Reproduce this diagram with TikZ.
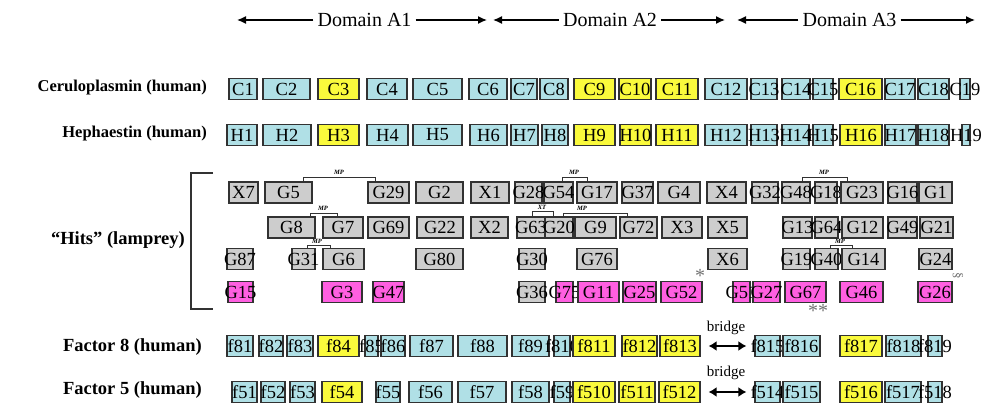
\documentclass[tikz,border=0pt]{standalone}
\usepackage{fontspec}
\setmainfont{Liberation Serif}
\usetikzlibrary{arrows.meta}

\definecolor{segblue}{RGB}{176,224,230}
\definecolor{segyellow}{RGB}{250,250,60}
\definecolor{seggray}{RGB}{205,205,205}
\definecolor{segpink}{RGB}{255,95,225}
\definecolor{segline}{RGB}{50,50,50}

\tikzset{
  seg/.style={draw=segline, line width=1.2pt, inner xsep=-12pt, inner ysep=0pt,
    minimum height=21pt, font=\fontsize{18.5}{18.5}\selectfont},
  bl/.style={seg, fill=segblue},
  yl/.style={seg, fill=segyellow},
  gr/.style={seg, fill=seggray},
  pk/.style={seg, fill=segpink},
  rowlabel/.style={anchor=east, inner sep=0pt, font=\fontsize{16.5}{18}\selectfont\bfseries},
  bigrowlabel/.style={rowlabel, font=\fontsize{18.5}{20}\selectfont\bfseries},
  domlabel/.style={inner sep=4pt, font=\fontsize{20}{20}\selectfont},
  domarrow/.style={line width=1.4pt, -{Latex[length=9pt,width=8pt]}},
  bridgearrow/.style={line width=2.4pt, {Latex[length=8pt,width=10pt]}-{Latex[length=8pt,width=10pt]},
    shorten <=8pt, shorten >=8pt},
  linklabel/.style={inner sep=0pt, font=\fontsize{6.5}{6.5}\selectfont\itshape\bfseries},
  linkline/.style={line width=0.8pt, draw=segline},
  starmark/.style={inner sep=0pt, font=\fontsize{20}{20}\selectfont, text=black!55}
}

\begin{document}
\begin{tikzpicture}[x=1pt,y=-1pt]
  \useasboundingbox (0,0) rectangle (985,406);

  % domains
  \node[domlabel] (A1) at (364.5,20) {Domain A1};
  \node[domlabel] (A2) at (610,20) {Domain A2};
  \node[domlabel] (A3) at (849.5,20) {Domain A3};
  \coordinate (A1l) at (237,20);
  \coordinate (A1r) at (487,20);
  \coordinate (A2l) at (493,20);
  \coordinate (A2r) at (725,20);
  \coordinate (A3l) at (737,20);
  \coordinate (A3r) at (975,20);
  \draw[domarrow] (A1) -- (A1l);
  \draw[domarrow] (A1) -- (A1r);
  \draw[domarrow] (A2) -- (A2l);
  \draw[domarrow] (A2) -- (A2r);
  \draw[domarrow] (A3) -- (A3l);
  \draw[domarrow] (A3) -- (A3r);

  % row labels
  \node[rowlabel] (cerulo) at (207,88) {Ceruloplasmin (human)};
  \node[rowlabel] (heph) at (207,134) {Hephaestin (human)};
  \node[bigrowlabel] (hits) at (185,240) {“Hits” (lamprey)};
  \node[bigrowlabel] (fviii) at (202,347) {Factor 8 (human)};
  \node[bigrowlabel] (fv) at (202,390) {Factor 5 (human)};
  \draw[line width=1.1pt, draw=segline] (213,173) -- (191,173) -- (191,309) -- (213,309);

  % Ceruloplasmin
  \node[bl, minimum width=28] (C1) at (243,89) {C1};
  \node[bl, minimum width=47] (C2) at (286.5,89) {C2};
  \node[yl, minimum width=41] (C3) at (338.5,89) {C3};
  \node[bl, minimum width=40] (C4) at (387,89) {C4};
  \node[bl, minimum width=49] (C5) at (437.5,89) {C5};
  \node[bl, minimum width=38] (C6) at (488,89) {C6};
  \node[bl, minimum width=26] (C7) at (524,89) {C7};
  \node[bl, minimum width=28] (C8) at (554,89) {C8};
  \node[yl, minimum width=41] (C9) at (594.5,89) {C9};
  \node[yl, minimum width=32] (C10) at (635,89) {C10};
  \node[yl, minimum width=42] (C11) at (677,89) {C11};
  \node[bl, minimum width=42] (C12) at (726,89) {C12};
  \node[bl, minimum width=26] (C13) at (764,89) {C13};
  \node[bl, minimum width=28] (C14) at (796,89) {C14};
  \node[bl, minimum width=20] (C15) at (823,89) {C15};
  \node[yl, minimum width=43] (C16) at (860.5,89) {C16};
  \node[bl, minimum width=30] (C17) at (900,89) {C17};
  \node[bl, minimum width=31] (C18) at (933.5,89) {C18};
  \node[bl, minimum width=10] (C19) at (965,89) {C19};

  % Hephaestin
  \node[bl, minimum width=30] (H1) at (242,135) {H1};
  \node[bl, minimum width=48] (H2) at (287,135) {H2};
  \node[yl, minimum width=41] (H3) at (338.5,135) {H3};
  \node[bl, minimum width=41] (H4) at (387.5,135) {H4};
  \node[bl, minimum width=49] (H5) at (437.5,135) {H5};
  \node[bl, minimum width=37] (H6) at (488.5,135) {H6};
  \node[bl, minimum width=27] (H7) at (524.5,135) {H7};
  \node[bl, minimum width=26] (H8) at (555,135) {H8};
  \node[yl, minimum width=41] (H9) at (594.5,135) {H9};
  \node[yl, minimum width=31] (H10) at (635.5,135) {H10};
  \node[yl, minimum width=42] (H11) at (677,135) {H11};
  \node[bl, minimum width=42] (H12) at (726,135) {H12};
  \node[bl, minimum width=26] (H13) at (764,135) {H13};
  \node[bl, minimum width=27] (H14) at (795.5,135) {H14};
  \node[bl, minimum width=20] (H15) at (823,135) {H15};
  \node[yl, minimum width=42] (H16) at (861,135) {H16};
  \node[bl, minimum width=31] (H17) at (900.5,135) {H17};
  \node[bl, minimum width=31] (H18) at (933.5,135) {H18};
  \node[bl, minimum width=8] (H19) at (966,135) {H19};

  % Hits, first row
  \node[gr, minimum width=29] (X7) at (243.5,192.5) {X7};
  \node[gr, minimum width=47] (G5) at (288.5,192.5) {G5};
  \node[gr, minimum width=41] (G29) at (388.5,192.5) {G29};
  \node[gr, minimum width=47] (G2) at (439.5,192.5) {G2};
  \node[gr, minimum width=38] (X1) at (490,192.5) {X1};
  \node[gr, minimum width=27] (G28) at (528.5,192.5) {G28};
  \node[gr, minimum width=29] (G54) at (558.5,192.5) {G54};
  \node[gr, minimum width=40] (G17) at (597,192.5) {G17};
  \node[gr, minimum width=31] (G37) at (637.5,192.5) {G37};
  \node[gr, minimum width=42] (G4) at (679,192.5) {G4};
  \node[gr, minimum width=39] (X4) at (726.5,192.5) {X4};
  \node[gr, minimum width=26] (G32) at (765,192.5) {G32};
  \node[gr, minimum width=28] (G48) at (796,192.5) {G48};
  \node[gr, minimum width=22] (G18) at (826,192.5) {G18};
  \node[gr, minimum width=42] (G23) at (862,192.5) {G23};
  \node[gr, minimum width=29] (G16) at (902.5,192.5) {G16};
  \node[gr, minimum width=33] (G1) at (935.5,192.5) {G1};

  % Hits, second row
  \node[gr, minimum width=47] (G8) at (291.5,227.5) {G8};
  \node[gr, minimum width=40] (G7) at (343,227.5) {G7};
  \node[gr, minimum width=41] (G69) at (388.5,227.5) {G69};
  \node[gr, minimum width=46] (G22) at (440,227.5) {G22};
  \node[gr, minimum width=37] (X2) at (489.5,227.5) {X2};
  \node[gr, minimum width=28] (G63) at (531,227.5) {G63};
  \node[gr, minimum width=28] (G20) at (559,227.5) {G20};
  \node[gr, minimum width=41] (G9) at (595.5,227.5) {G9};
  \node[gr, minimum width=37] (G72) at (638.5,227.5) {G72};
  \node[gr, minimum width=40] (X3) at (682,227.5) {X3};
  \node[gr, minimum width=39] (X5) at (727.5,227.5) {X5};
  \node[gr, minimum width=29] (G13) at (797.5,227.5) {G13};
  \node[gr, minimum width=23] (G64) at (826.5,227.5) {G64};
  \node[gr, minimum width=41] (G12) at (862.5,227.5) {G12};
  \node[gr, minimum width=29] (G49) at (902.5,227.5) {G49};
  \node[gr, minimum width=33] (G21) at (936.5,227.5) {G21};

  % Hits, third row
  \node[gr, minimum width=26] (G87) at (240,259) {G87};
  \node[gr, minimum width=23] (G31) at (303.5,259) {G31};
  \node[gr, minimum width=41] (G6) at (343.5,259) {G6};
  \node[gr, minimum width=47] (G80) at (439.5,259) {G80};
  \node[gr, minimum width=26] (G30) at (532,259) {G30};
  \node[gr, minimum width=40] (G76) at (597,259) {G76};
  \node[gr, minimum width=39] (X6) at (727.5,259) {X6};
  \node[gr, minimum width=27] (G19) at (796.5,259) {G19};
  \node[gr, minimum width=23] (G40) at (826.5,259) {G40};
  \node[gr, minimum width=43] (G14) at (863.5,259) {G14};
  \node[gr, minimum width=33] (G24) at (935.5,259) {G24};

  % Hits, fourth row
  \node[pk, minimum width=25] (G15) at (240.5,292) {G15};
  \node[pk, minimum width=40] (G3) at (342,292) {G3};
  \node[pk, minimum width=31] (G47) at (388.5,292) {G47};
  \node[gr, minimum width=26] (G36) at (532,292) {G36};
  \node[pk, minimum width=17] (G75) at (564.5,292) {G75};
  \node[pk, minimum width=41] (G11) at (598.5,292) {G11};
  \node[pk, minimum width=33] (G25) at (639.5,292) {G25};
  \node[pk, minimum width=41] (G52) at (681.5,292) {G52};
  \node[pk, minimum width=17] (G51) at (741.5,292) {G51};
  \node[pk, minimum width=27] (G27) at (766.5,292) {G27};
  \node[pk, minimum width=41] (G67) at (805.5,292) {G67};
  \node[pk, minimum width=43] (G46) at (861.5,292) {G46};
  \node[pk, minimum width=34] (G26) at (935,292) {G26};

  % links between hits
  \draw[linkline] (303,182) -- (303,177) -- (375,177) -- (375,182);
  \node[linklabel] (mp1) at (339,172) {MP};
  \draw[linkline] (562,182) -- (562,177) -- (587,177) -- (587,182);
  \node[linklabel] (mp2) at (574,172) {MP};
  \draw[linkline] (802,182) -- (802,177) -- (847,177) -- (847,182);
  \node[linklabel] (mp3) at (824,172) {MP};
  \draw[linkline] (310,217) -- (310,213) -- (337,213) -- (337,217);
  \node[linklabel] (mp4) at (323,208.5) {MP};
  \draw[linkline] (532,217) -- (532,211) -- (553,211) -- (553,217);
  \node[linklabel] (xt1) at (542,207.5) {XT};
  \draw[linkline] (563,217) -- (563,213) -- (627,213) -- (627,217);
  \node[linklabel] (mp5) at (582,208.5) {MP};
  \draw[linkline] (307,248) -- (307,245) -- (330,245) -- (330,248);
  \node[linklabel] (mp6) at (317,241) {MP};
  \draw[linkline] (830,248) -- (830,245) -- (852,245) -- (852,248);
  \node[linklabel] (mp7) at (840,241) {MP};
  \node[starmark] (star1) at (700,276) {*};
  \node[starmark] (star2) at (818,311) {**};
  \node[starmark, font=\fontsize{13}{13}\selectfont, rotate=-90] (sect) at (958,276) {§};

  % Factor 8
  \node[bl, minimum width=26] (f81) at (240,346) {f81};
  \node[bl, minimum width=24] (f82) at (271,346) {f82};
  \node[bl, minimum width=26] (f83) at (300,346) {f83};
  \node[yl, minimum width=41] (f84) at (338.5,346) {f84};
  \node[bl, minimum width=13] (f85) at (371.5,346) {f85};
  \node[bl, minimum width=24] (f86) at (393,346) {f86};
  \node[bl, minimum width=43] (f87) at (431.5,346) {f87};
  \node[bl, minimum width=49] (f88) at (482.5,346) {f88};
  \node[bl, minimum width=37] (f89) at (530.5,346) {f89};
  \node[bl, minimum width=16] (f810) at (562,346) {f810};
  \node[yl, minimum width=42] (f811) at (594,346) {f811};
  \node[yl, minimum width=35] (f812) at (639.5,346) {f812};
  \node[yl, minimum width=40] (f813) at (680,346) {f813};
  \node[bl, minimum width=25] (f815) at (767.5,346) {f815};
  \node[bl, minimum width=37] (f816) at (801.5,346) {f816};
  \node[yl, minimum width=42] (f817) at (861,346) {f817};
  \node[bl, minimum width=35] (f818) at (903.5,346) {f818};
  \node[bl, minimum width=14] (f819) at (935,346) {f819};
  \node[inner sep=0pt, font=\fontsize{15}{15}\selectfont] (br8) at (726,328) {bridge};
  \draw[bridgearrow] (f813) -- (f815);

  % Factor 5
  \node[bl, minimum width=25] (f51) at (244.5,392) {f51};
  \node[bl, minimum width=24] (f52) at (273,392) {f52};
  \node[bl, minimum width=25] (f53) at (302.5,392) {f53};
  \node[yl, minimum width=40] (f54) at (342,392) {f54};
  \node[bl, minimum width=24] (f55) at (388,392) {f55};
  \node[bl, minimum width=43] (f56) at (430.5,392) {f56};
  \node[bl, minimum width=48] (f57) at (482,392) {f57};
  \node[bl, minimum width=37] (f58) at (530.5,392) {f58};
  \node[bl, minimum width=16] (f59) at (562,392) {f59};
  \node[yl, minimum width=42] (f510) at (594,392) {f510};
  \node[yl, minimum width=36] (f511) at (637,392) {f511};
  \node[yl, minimum width=41] (f512) at (679.5,392) {f512};
  \node[bl, minimum width=25] (f514) at (767.5,392) {f514};
  \node[bl, minimum width=37] (f515) at (801.5,392) {f515};
  \node[yl, minimum width=42] (f516) at (861,392) {f516};
  \node[bl, minimum width=36] (f517) at (903,392) {f517};
  \node[bl, minimum width=14] (f518) at (935,392) {f518};
  \node[inner sep=0pt, font=\fontsize{15}{15}\selectfont] (br5) at (726,373) {bridge};
  \draw[bridgearrow] (f512) -- (f514);
\end{tikzpicture}
\end{document}
